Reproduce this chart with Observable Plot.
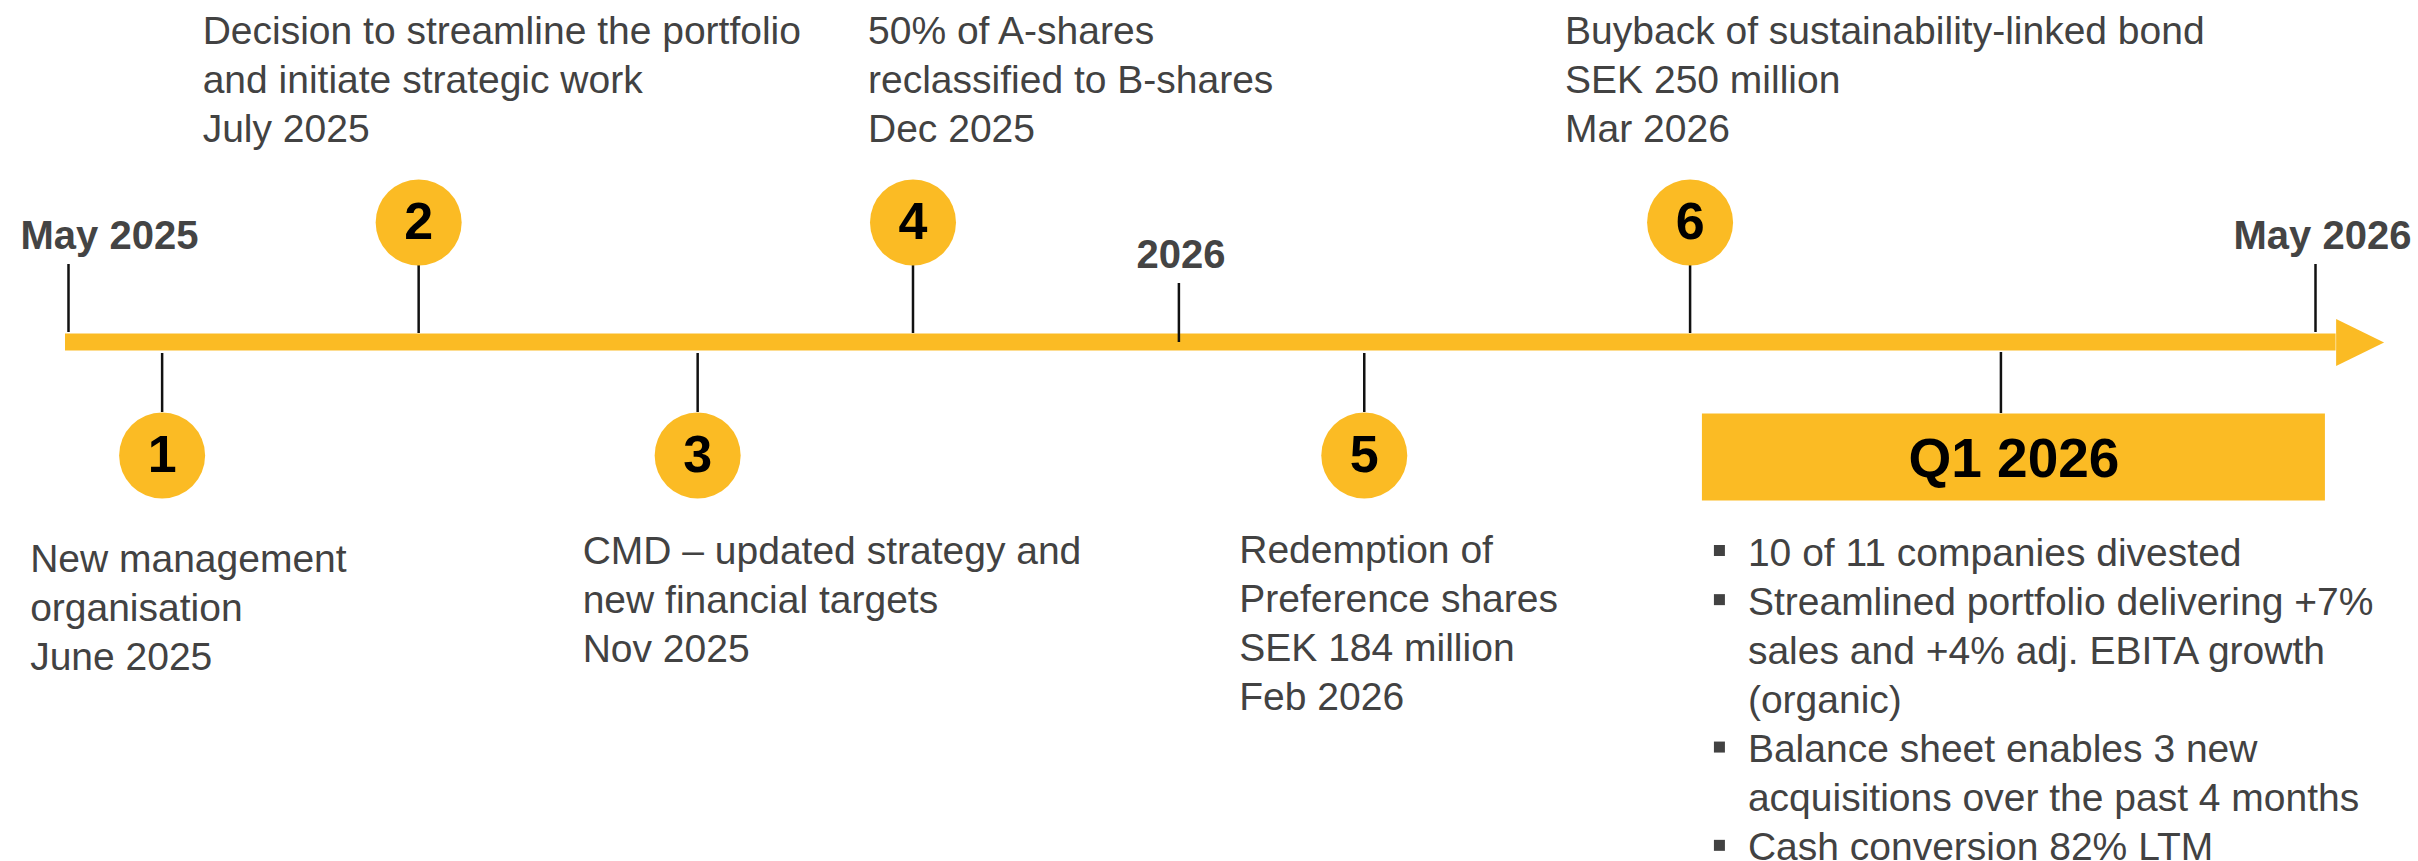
<!DOCTYPE html>
<html>
<head>
<meta charset="utf-8">
<script src="https://cdn.jsdelivr.net/npm/d3@7"></script>
<script src="https://cdn.jsdelivr.net/npm/@observablehq/plot@0.6"></script>
<style>
  html, body { margin: 0; padding: 0; background: #ffffff; }
  #chart svg { display: block; }
</style>
</head>
<body>
<div id="chart"></div>
<script>
// ---------------- DATA (positions on the timeline, in months after May 2025, schematic) ----------------
const axisLabels   = ["May 2025", "2026", "May 2026"];
const axisLabelPos = [0, 5.93, 12];
const axisExtent   = [-0.016, 12.11];   // start of the bar, base of the arrow head

const eventNumbers = ["1", "2", "3", "4", "5", "6"];
const eventPos     = [0.5, 1.87, 3.36, 4.51, 6.92, 8.66];
const eventSide    = ["below", "above", "below", "above", "below", "above"];
const eventText    = [
  "New management\norganisation\nJune 2025",
  "Decision to streamline the portfolio\nand initiate strategic work\nJuly 2025",
  "CMD – updated strategy and\nnew financial targets\nNov 2025",
  "50% of A-shares\nreclassified to B-shares\nDec 2025",
  "Redemption of\nPreference shares\nSEK 184 million\nFeb 2026",
  "Buyback of sustainability-linked bond\nSEK 250 million\nMar 2026"
];

const q1Label   = "Q1 2026";
const q1Pos     = 10.32;
const q1Bullets = [
  "10 of 11 companies divested",
  "Streamlined portfolio delivering +7%\nsales and +4% adj. EBITA growth\n(organic)",
  "Balance sheet enables 3 new\nacquisitions over the past 4 months",
  "Cash conversion 82% LTM"
];

// ---------------- LAYOUT / STYLE ----------------
const W = 2418, H = 861;
const AXIS_Y = 342;                 // vertical centre of the timeline bar (frame middle)
const MB = H - 2 * AXIS_Y;          // bottom margin so that the frame middle is the bar
const FRAME_B = H - MB;
const YELLOW = "#fbbb24";
const TEXT = "#424242";
const LABEL = "#444444";
const FONT = "'Liberation Sans', Arial, Helvetica, sans-serif";
const FS = 39, LH = 1.26, LINE = FS * LH;

// label offsets per event (px relative to its tick, first baseline in px)
const labelDx = [-132, -216, -115, -45, -125, -125];
const labelBaseline = [571, 43, 563, 43, 562, 43];

const axisLabelLayout = [
  {dx: -48, anchor: "start", baseline: 248, tickTop: 264, tickBottom: 332},
  {dx: 2, anchor: "middle", baseline: 267, tickTop: 283, tickBottom: 342},
  {dx: 7, anchor: "middle", baseline: 248, tickTop: 264, tickBottom: 332}
];

const arrowHead = {draw(ctx) { ctx.moveTo(0, -23.5); ctx.lineTo(48, 0); ctx.lineTo(0, 23.5); ctx.closePath(); }};
const rectSymbol = (w, h) => ({draw(ctx) { ctx.rect(-w / 2, -h / 2, w, h); }});

const events = eventNumbers.map((n, i) => ({n, pos: eventPos[i], side: eventSide[i], text: eventText[i], i}));
const above = events.filter(d => d.side === "above");
const below = events.filter(d => d.side === "below");

const marks = [];

// timeline bar + arrow head
marks.push(Plot.rect([axisExtent], {x1: d => d[0], x2: d => d[1], insetTop: AXIS_Y - 8.5, insetBottom: FRAME_B - (AXIS_Y + 8.5), fill: YELLOW}));
marks.push(Plot.dot([axisExtent[1]], {x: d => d, symbol: arrowHead, fill: YELLOW, stroke: "none", r: 10}));

// axis labels with ticks
axisLabels.forEach((lab, i) => {
  const L = axisLabelLayout[i];
  marks.push(Plot.ruleX([axisLabelPos[i]], {x: d => d, insetTop: L.tickTop, insetBottom: FRAME_B - L.tickBottom, stroke: "#111", strokeWidth: 2.5}));
  marks.push(Plot.text([lab], {x: () => axisLabelPos[i], text: d => d, dx: L.dx, dy: L.baseline - AXIS_Y,
    lineAnchor: "bottom", textAnchor: L.anchor, fontSize: 40, fontWeight: "bold", fill: LABEL}));
});

// event ticks
marks.push(Plot.ruleX(above, {x: "pos", insetTop: 265, insetBottom: FRAME_B - 333, stroke: "#111", strokeWidth: 2.5}));
marks.push(Plot.ruleX(below, {x: "pos", insetTop: 353, insetBottom: FRAME_B - 412, stroke: "#111", strokeWidth: 2.5}));
marks.push(Plot.ruleX([q1Pos], {x: d => d, insetTop: 352, insetBottom: FRAME_B - 413, stroke: "#111", strokeWidth: 2.5}));

// numbered circles
marks.push(Plot.dot(above, {x: "pos", r: 43, fill: YELLOW, stroke: "none", dy: 222 - AXIS_Y}));
marks.push(Plot.dot(below, {x: "pos", r: 43, fill: YELLOW, stroke: "none", dy: 455 - AXIS_Y}));
marks.push(Plot.text(above, {x: "pos", text: "n", dy: 222 - AXIS_Y, lineAnchor: "middle", fontSize: 52, fontWeight: "bold", fill: "#000"}));
marks.push(Plot.text(below, {x: "pos", text: "n", dy: 455 - AXIS_Y, lineAnchor: "middle", fontSize: 52, fontWeight: "bold", fill: "#000"}));

// event descriptions
events.forEach((e, i) => {
  const nLines = e.text.split("\n").length;
  marks.push(Plot.text([e], {x: "pos", text: "text", dx: labelDx[i], dy: labelBaseline[i] + (nLines - 1) * LINE - AXIS_Y,
    lineAnchor: "bottom", textAnchor: "start", fontSize: FS, lineHeight: LH, fill: TEXT}));
});

// Q1 box
marks.push(Plot.dot([q1Pos], {x: d => d, symbol: rectSymbol(623, 87), r: 10, fill: YELLOW, stroke: "none", dx: 12.5, dy: 456.5 - AXIS_Y}));
marks.push(Plot.text([q1Label], {x: () => q1Pos, text: d => d, dx: 13, dy: 476 - 0.32 * 55 - AXIS_Y,
  lineAnchor: "middle", textAnchor: "middle", fontSize: 55, fontWeight: "bold", fill: "#000"}));

// Q1 bullets
const bulletFirst = 565;
const allLines = q1Bullets.join("\n").split("\n");
marks.push(Plot.text([allLines.join("\n")], {x: () => q1Pos, text: d => d, dx: 1747 - 2000,
  dy: bulletFirst + (allLines.length - 1) * LINE - AXIS_Y, lineAnchor: "bottom", textAnchor: "start",
  fontSize: FS, lineHeight: LH, fill: TEXT}));
let lineIdx = 0;
q1Bullets.forEach(b => {
  marks.push(Plot.dot([q1Pos], {x: d => d, symbol: rectSymbol(11, 11), r: 5, fill: TEXT, stroke: "none",
    dx: 1718.5 - 2000, dy: bulletFirst + lineIdx * LINE - 15 - AXIS_Y}));
  lineIdx += b.split("\n").length;
});

const chart = Plot.plot({
  width: W, height: H,
  marginTop: 0, marginBottom: MB, marginLeft: 0, marginRight: 0,
  x: {domain: [0, 12], range: [68, 2315], axis: null},
  style: {fontFamily: FONT, background: "#ffffff", overflow: "visible"},
  marks
});
document.getElementById("chart").appendChild(chart);
</script>
</body>
</html>
